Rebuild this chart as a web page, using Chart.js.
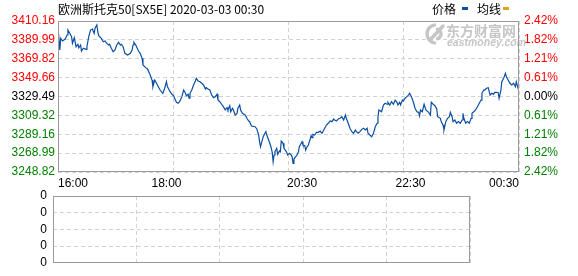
<!DOCTYPE html>
<html>
<head>
<meta charset="utf-8">
<script src="https://cdn.jsdelivr.net/npm/chart.js@4"></script>
<style>
  html, body { margin: 0; padding: 0; background: #fff; }
  #wrap { position: relative; width: 578px; height: 276px; overflow: hidden; }
  canvas { position: absolute; left: 0; top: 0; }
</style>
</head>
<body>
<div id="wrap">
  <canvas id="main" width="578" height="276"></canvas>
  <canvas id="vol" width="578" height="276"></canvas>
</div>
<script>
// ---------- data ----------
const chartTitle = '欧洲斯托克50[SX5E] 2020-03-03 00:30';
const legendNames = ['价格', '均线'];
const prevClose = 3329.49;
const yTickValues = [3410.16, 3389.99, 3369.82, 3349.66, 3329.49, 3309.32, 3289.16, 3268.99, 3248.82];
const sessionMinutes = 510; // 16:00 -> 00:30
const xTickMinutes = [0, 120, 270, 390, 510];
const xTickLabels = ['16:00', '18:00', '20:30', '22:30', '00:30'];
const volumeTickLabels = ['0', '0', '0', '0', '0'];

// minutes after 16:00
const minuteOffsets = [0,2,3,5,8,10,11,13,15,16,18,20,22,23,25,26,28,31,32,34,36,38,40,41,43,44,45,48,50,52,54,56,57,59,61,63,65,67,69,70,72,74,77,80,82,83,84,86,89,91,93,94,97,99,102,104,105,107,109,111,113,115,116,118,120,121,122,124,126,128,129,131,133,135,137,139,141,142,144,145,146,148,150,152,153,155,157,159,161,163,164,166,168,170,172,174,176,177,179,181,183,185,187,188,190,191,193,194,196,198,199,201,202,204,207,209,211,212,214,218,220,222,223,224,225,227,229,230,231,233,235,236,237,238,239,240,242,243,245,246,247,249,250,252,253,254,256,258,259,260,261,263,264,266,267,269,270,271,273,274,275,277,279,280,281,282,284,286,288,290,292,293,295,297,299,301,303,305,306,308,310,312,314,316,318,319,321,323,325,327,329,330,332,334,336,338,340,342,343,345,347,349,351,353,354,355,358,360,362,364,365,367,369,371,373,375,376,378,379,381,382,384,386,388,389,391,393,395,397,399,400,401,403,405,407,410,412,413,415,417,419,420,423,424,426,427,429,431,433,434,436,437,439,441,443,445,447,448,449,451,453,455,457,458,460,462,464,466,468,469,471,472,474,476,478,480,482,483,485,487,488,490,491,493,495,496,498,500,502,504,506,507,508,510];

const prices = [3404.1,3379.2,3391.7,3388.8,3390.9,3395.2,3400.5,3397.0,3393.4,3386.3,
3392.3,3382.7,3385.3,3381.6,3384.5,3378.1,3381.0,3379.9,3382.7,3393.4,
3400.5,3401.6,3397.0,3402.4,3405.9,3398.7,3394.5,3391.7,3388.0,3388.8,
3386.3,3384.5,3385.3,3381.0,3377.4,3379.2,3384.5,3387.4,3384.5,3385.3,
3382.7,3375.6,3373.8,3375.6,3379.2,3384.5,3387.4,3384.5,3378.1,3375.6,
3370.3,3363.2,3360.3,3358.9,3352.5,3347.1,3340.0,3347.1,3343.6,3340.0,
3336.4,3334.0,3332.9,3338.3,3345.3,3340.0,3338.3,3334.6,3331.9,3330.3,
3327.6,3323.3,3322.2,3324.7,3329.3,3336.4,3332.9,3330.3,3331.8,3327.6,
3332.9,3336.4,3341.8,3346.1,3348.9,3346.1,3345.3,3343.6,3341.8,3337.5,
3338.9,3337.5,3336.4,3331.1,3328.2,3329.3,3331.8,3325.7,3323.9,3321.2,
3318.6,3315.1,3317.5,3315.1,3319.7,3313.2,3316.9,3315.1,3309.7,3311.5,
3316.9,3320.4,3315.1,3311.5,3309.7,3306.2,3303.3,3302.6,3298.0,3297.2,
3294.8,3288.3,3281.2,3275.9,3279.5,3286.5,3290.2,3291.9,3288.3,3283.0,
3277.7,3274.1,3269.9,3259.8,3267.0,3270.5,3274.1,3267.7,3271.3,3270.5,
3281.9,3279.5,3274.1,3271.3,3269.9,3267.0,3268.8,3267.0,3265.2,3258.1,
3262.7,3265.2,3266.2,3270.5,3275.9,3279.5,3281.2,3277.7,3276.9,3272.3,
3274.8,3277.7,3284.1,3287.6,3285.5,3289.1,3288.3,3291.2,3291.2,3292.6,
3290.2,3291.9,3295.5,3299.0,3300.9,3303.3,3302.6,3305.4,3304.4,3303.3,
3305.4,3306.2,3307.9,3304.4,3309.7,3306.2,3300.9,3295.5,3291.9,3290.2,
3293.7,3291.9,3290.2,3291.9,3294.4,3295.5,3293.7,3295.5,3290.2,3288.3,
3286.5,3290.2,3297.2,3300.9,3307.9,3315.1,3313.2,3320.4,3322.2,3321.2,
3323.3,3320.4,3323.9,3321.2,3325.7,3323.3,3320.4,3323.3,3320.4,3325.7,
3324.7,3327.6,3329.3,3331.1,3332.9,3329.3,3323.9,3316.9,3313.2,3312.6,
3308.9,3315.1,3313.2,3321.2,3315.1,3312.6,3309.7,3323.3,3321.2,3319.7,
3316.1,3307.9,3306.2,3302.6,3299.0,3293.7,3302.6,3306.2,3307.9,3312.6,
3307.9,3302.6,3304.4,3300.9,3302.6,3300.9,3304.4,3311.5,3306.2,3300.9,
3302.6,3300.9,3306.2,3311.5,3313.2,3315.1,3318.6,3322.2,3325.7,3332.9,
3336.4,3336.4,3338.3,3338.9,3331.1,3332.9,3331.8,3334.0,3334.0,3333.6,
3327.6,3336.4,3345.3,3348.9,3354.3,3350.6,3347.1,3343.6,3341.8,3343.6,
3340.0,3345.3,3341.8,3334.6];

// ---------- styles ----------
const FONT = '"Liberation Sans", Arial, sans-serif';
const CJK = '"Noto Sans CJK SC", sans-serif';
const GRID = '#d2d2d2';
const FRAME = '#9a9a9a';
const LINE = '#0b4fa3';
const GOLD = '#e0a422';
const RED = '#ff0000';
const GREEN = '#008000';

function levelColor(v) {
  if (Math.abs(v - prevClose) < 0.005) return '#000000';
  return v > prevClose ? RED : GREEN;
}
function quarterTicks(scale) {
  scale.ticks = [0, 1, 2, 3, 4].map(i => ({ value: scale.min + (scale.max - scale.min) * i / 4 }));
}

const n = Math.min(minuteOffsets.length, prices.length);
const points = [];
for (let i = 0; i < n; i++) points.push({ x: minuteOffsets[i], y: prices[i] });

const frame = {
  id: 'frame',
  afterDraw(chart) {
    const { ctx, chartArea: a } = chart;
    ctx.save();
    ctx.strokeStyle = FRAME;
    ctx.lineWidth = 1;
    ctx.strokeRect(Math.round(a.left) + 0.5, Math.round(a.top) + 0.5,
      Math.round(a.right - a.left) - 1, Math.round(a.bottom - a.top) - 1);
    ctx.restore();
  }
};

const decor = {
  id: 'decor',
  beforeDatasetsDraw(chart) {
    const { ctx } = chart;
    ctx.save();
    // watermark
    ctx.fillStyle = '#c6c6c6';
    ctx.strokeStyle = '#c6c6c6';
    ctx.lineWidth = 3.5;
    ctx.lineCap = 'round';
    ctx.beginPath(); ctx.arc(436, 34, 9, Math.PI * 0.55, Math.PI * 1.45); ctx.stroke();
    ctx.beginPath(); ctx.arc(436, 34, 5, Math.PI * 1.6, Math.PI * 0.4); ctx.stroke();
    ctx.beginPath(); ctx.moveTo(430, 40); ctx.lineTo(443, 26); ctx.stroke();
    ctx.font = 'bold 14px ' + CJK;
    ctx.textBaseline = 'middle';
    ctx.textAlign = 'left';
    ctx.fillText('东方财富网', 446, 31);
    ctx.font = 'bold italic 10.5px ' + FONT;
    ctx.fillText('eastmoney.com', 447, 43);
    ctx.restore();
  },
  afterDraw(chart) {
    const { ctx } = chart;
    ctx.save();
    ctx.fillStyle = '#000';
    ctx.textBaseline = 'middle';
    ctx.textAlign = 'left';
    ctx.font = '12px ' + CJK;
    ctx.fillText(chartTitle, 58, 9);
    ctx.fillText(legendNames[0], 432, 9);
    ctx.fillText(legendNames[1], 477, 9);
    ctx.fillStyle = LINE;
    ctx.fillRect(462, 7, 6, 3);
    ctx.fillStyle = GOLD;
    ctx.fillRect(503, 7, 6, 3);
    ctx.restore();
  }
};

new Chart(document.getElementById('main'), {
  type: 'line',
  data: {
    datasets: [{
      label: legendNames[0],
      data: points,
      borderColor: LINE,
      borderWidth: 1.2,
      pointRadius: 0,
      tension: 0,
      fill: false
    }]
  },
  options: {
    responsive: false,
    animation: false,
    events: [],
    layout: { padding: { top: 21, bottom: 84, left: 0, right: 0 } },
    plugins: { legend: { display: false }, title: { display: false }, tooltip: { enabled: false } },
    scales: {
      x: {
        type: 'linear', position: 'bottom', min: 0, max: sessionMinutes,
        afterBuildTicks: s => { s.ticks = xTickMinutes.map(v => ({ value: v })); },
        afterFit: s => { s.height = 20; },
        grid: { display: false, drawTicks: false },
        border: { display: false },
        ticks: {
          autoSkip: false, maxRotation: 0, align: 'inner', padding: 4,
          color: '#000', font: { family: FONT, size: 12 },
          callback: (v, i) => xTickLabels[i]
        }
      },
      xg: {
        type: 'linear', position: 'bottom', min: 0, max: sessionMinutes,
        afterBuildTicks: quarterTicks,
        afterFit: s => { s.height = 0; },
        grid: { color: GRID, drawTicks: false, lineWidth: 1 },
        border: { display: false, dash: [4, 3] },
        ticks: { display: false }
      },
      y: {
        type: 'linear', position: 'left',
        min: yTickValues[yTickValues.length - 1], max: yTickValues[0],
        afterBuildTicks: s => { s.ticks = yTickValues.map(v => ({ value: v })); },
        afterFit: s => { s.width = 58; },
        grid: { color: GRID, drawTicks: false },
        border: { display: false, dash: [4, 3] },
        ticks: {
          padding: 3, font: { family: FONT, size: 12 },
          color: c => levelColor(c.tick.value),
          callback: v => v.toFixed(2)
        }
      },
      y2: {
        type: 'linear', position: 'right',
        min: yTickValues[yTickValues.length - 1], max: yTickValues[0],
        afterBuildTicks: s => { s.ticks = yTickValues.map(v => ({ value: v })); },
        afterFit: s => { s.width = 59; },
        grid: { display: false, drawTicks: false },
        border: { display: false },
        ticks: {
          padding: 5, font: { family: FONT, size: 12 },
          color: c => levelColor(c.tick.value),
          callback: v => Math.abs((v - prevClose) / prevClose * 100).toFixed(2) + '%'
        }
      }
    }
  },
  plugins: [decor, frame]
});

new Chart(document.getElementById('vol'), {
  type: 'bar',
  data: { datasets: [] },
  options: {
    responsive: false,
    animation: false,
    events: [],
    layout: { padding: { top: 196, bottom: 6, left: 0, right: 108 } },
    plugins: { legend: { display: false }, title: { display: false }, tooltip: { enabled: false } },
    scales: {
      x: {
        type: 'linear', position: 'bottom', min: 0, max: sessionMinutes,
        afterBuildTicks: quarterTicks,
        afterFit: s => { s.height = 0; },
        grid: { color: GRID, drawTicks: false },
        border: { display: false, dash: [4, 3] },
        ticks: { display: false }
      },
      y: {
        type: 'linear', position: 'left', min: 0, max: 4,
        afterBuildTicks: s => { s.ticks = [0, 1, 2, 3, 4].map(v => ({ value: v })); },
        afterFit: s => { s.width = 53; },
        grid: { color: GRID, drawTicks: false },
        border: { display: false, dash: [4, 3] },
        ticks: {
          padding: 6, color: '#000', font: { family: FONT, size: 12 },
          callback: (v, i) => volumeTickLabels[i]
        }
      }
    }
  },
  plugins: [frame]
});
</script>
</body>
</html>
